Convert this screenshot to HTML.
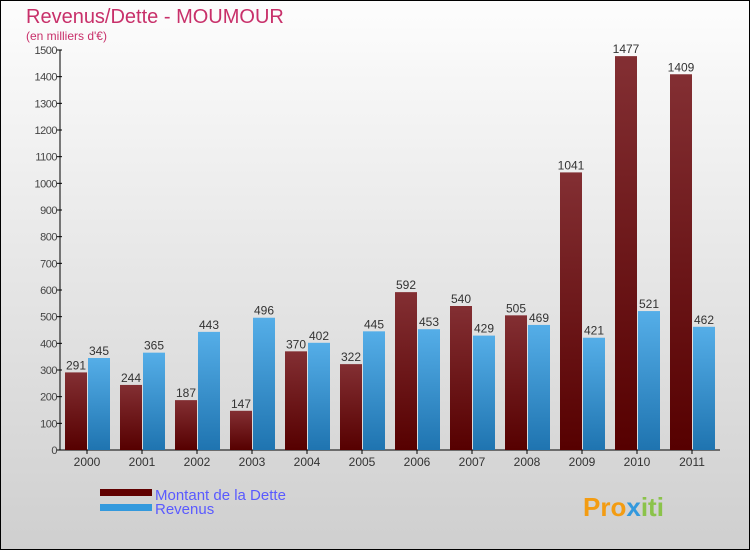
<!DOCTYPE html>
<html><head><meta charset="utf-8"><style>
body{margin:0;width:750px;height:550px;overflow:hidden;font-family:"Liberation Sans",sans-serif}
</style></head><body>
<svg id="chart" width="750" height="550" xmlns="http://www.w3.org/2000/svg">
<defs>
<linearGradient id="bg" x1="0" y1="0" x2="0" y2="1"><stop offset="0" stop-color="#fdfdfd"/><stop offset="1" stop-color="#cfcfcf"/></linearGradient>
<linearGradient id="gd" x1="0" y1="0" x2="0" y2="1"><stop offset="0" stop-color="#832f33"/><stop offset="1" stop-color="#560000"/></linearGradient>
<linearGradient id="gr" x1="0" y1="0" x2="0" y2="1"><stop offset="0" stop-color="#55aee8"/><stop offset="1" stop-color="#1f74b0"/></linearGradient>
</defs>
<rect x="0.5" y="0.5" width="749" height="549" fill="url(#bg)" stroke="#000"/>
<text x="26" y="23" font-size="20" fill="#c8306a">Revenus/Dette - MOUMOUR</text>
<text x="26" y="40" font-size="12" fill="#c8306a">(en milliers d'€)</text>
<g id="axes"></g>
<g id="bars"></g>
<rect x="100" y="489" width="52" height="7" fill="#600000"/>
<text x="155" y="500" font-size="15" fill="#5a5aff">Montant de la Dette</text>
<rect x="100" y="504" width="52" height="7" fill="#3399dd"/>
<text x="155" y="514" font-size="15" fill="#5a5aff">Revenus</text>
<text x="583" y="516" font-size="26" font-weight="bold" fill="#f39c12">Pro<tspan fill="#3399dd">x</tspan><tspan fill="#8bc34a">iti</tspan></text>
</svg>
<script>
const years=["2000","2001","2002","2003","2004","2005","2006","2007","2008","2009","2010","2011"];
const dette=[291,244,187,147,370,322,592,540,505,1041,1477,1409];
const revenus=[345,365,443,496,402,445,453,429,469,421,521,462];
const yTicks=[0,100,200,300,400,500,600,700,800,900,1000,1100,1200,1300,1400,1500];
const NS="http://www.w3.org/2000/svg";
const y0=450,yMax=1500,plotH=400,x0=87,step=55,bw=22;
const y=v=>y0-v/yMax*plotH;
const x=i=>x0+i*step;
function mk(tag,attrs,parent,text){const e=document.createElementNS(NS,tag);for(const k in attrs)e.setAttribute(k,attrs[k]);if(text!==undefined)e.textContent=text;parent.appendChild(e);return e;}
const ax=document.getElementById('axes'),bg=document.getElementById('bars');
let l=mk('line',{x1:60,y1:50,x2:60,y2:y0,stroke:'#000'},ax);


l=mk('line',{x1:60,y1:y0,x2:720,y2:y0,stroke:'#000'},ax);


yTicks.forEach(t=>{
 const tk=mk('line',{x1:57,y1:y(t),x2:62,y2:y(t),stroke:'#000'},ax);
 
 
 const tl=mk('text',{x:57,y:y(t)+4,'font-size':11,fill:'#444','text-anchor':'end','letter-spacing':'-0.5'},ax,t);
 
 
});
years.forEach((yr,i)=>{
 const cx=x(i);
 const tk=mk('line',{x1:cx,y1:y0,x2:cx,y2:y0+4,stroke:'#000'},ax);
 
 
 const tl=mk('text',{x:cx,y:y0+16,'font-size':12,fill:'#333','text-anchor':'middle'},ax,yr);
 
 
 const b1=mk('rect',{x:cx-bw,y:y(dette[i]),width:bw,height:y0-y(dette[i]),fill:'url(#gd)'},bg);
 
 
 const b2=mk('rect',{x:cx+1,y:y(revenus[i]),width:bw,height:y0-y(revenus[i]),fill:'url(#gr)'},bg);
 
 
 const v1=mk('text',{x:cx-bw/2,y:y(dette[i])-3,'font-size':12,fill:'#333','text-anchor':'middle'},bg,dette[i]);
 
 
 const v2=mk('text',{x:cx+1+bw/2,y:y(revenus[i])-3,'font-size':12,fill:'#333','text-anchor':'middle'},bg,revenus[i]);
 
 
});
</script>
</body></html>
